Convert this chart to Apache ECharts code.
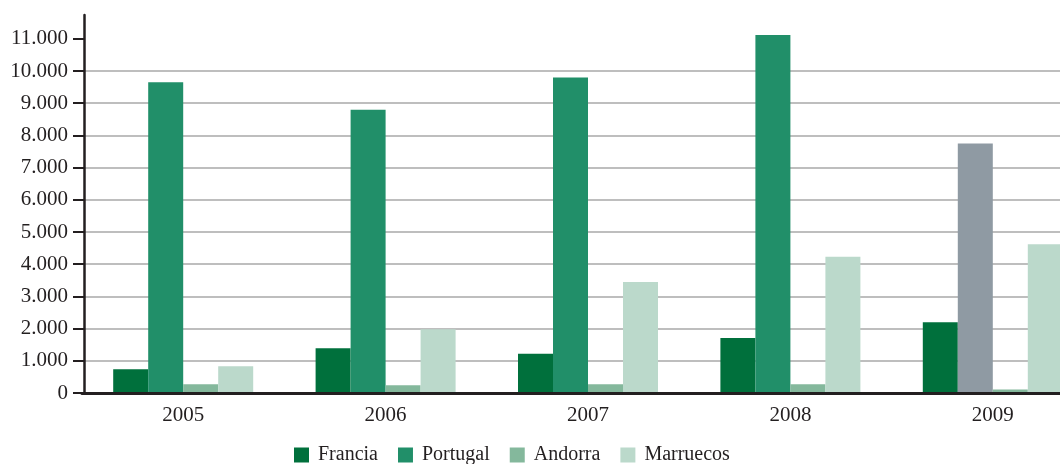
<!DOCTYPE html>
<html>
<head>
<meta charset="utf-8">
<script src="https://cdn.jsdelivr.net/npm/echarts@6/dist/echarts.min.js"></script>
<style>
html,body{margin:0;padding:0;background:#fff;overflow:hidden;}
#chart{width:1100px;height:464px;}
</style>
</head>
<body>
<div id="chart"></div>
<script>
const years = ['2005', '2006', '2007', '2008', '2009'];
const francia = [740, 1390, 1220, 1710, 2200];
const portugal = [9650, 8800, 9800, 11120, 7750];
const andorra = [270, 240, 270, 270, 110];
const marruecos = [830, 1980, 3450, 4230, 4620];
const yTicks = [0, 1000, 2000, 3000, 4000, 5000, 6000, 7000, 8000, 9000, 10000, 11000];
const yTickLabels = ['0', '1.000', '2.000', '3.000', '4.000', '5.000', '6.000', '7.000', '8.000', '9.000', '10.000', '11.000'];
const seriesNames = ['Francia', 'Portugal', 'Andorra', 'Marruecos'];

const colors = ['#00703c', '#218f69', '#84b89c', '#bbd9cb'];
const grayHighlight = '#8f9aa3';
const ink = '#231f20';
const font = 'Liberation Serif';

const chart = echarts.init(document.getElementById('chart'), null, {renderer: 'canvas'});

const portugalData = portugal.map((v, i) => i === 4 ? {value: v, itemStyle: {color: grayHighlight}} : v);
const dataSets = [francia, portugalData, andorra, marruecos];

chart.setOption({
  animation: false,
  color: colors,
  grid: {left: 82, top: 15, bottom: 71, width: 1012, containLabel: false},
  legend: {
    top: 440,
    left: 289,
    itemWidth: 15,
    itemHeight: 15,
    itemGap: 20,
    icon: 'rect',
    data: seriesNames,
    textStyle: {fontFamily: font, fontSize: 20, color: ink, padding: [0, 0, 0, 4]}
  },
  xAxis: {
    type: 'category',
    data: years,
    z: 5,
    axisLine: {lineStyle: {color: ink, width: 3}},
    axisTick: {show: false},
    axisLabel: {fontFamily: font, fontSize: 21, color: ink, margin: 12}
  },
  yAxis: {
    type: 'value',
    min: 0,
    max: 11740,
    interval: 1000,
    offset: -2,
    axisLine: {show: true, lineStyle: {color: ink, width: 2.5}},
    axisTick: {show: true, length: 11, lineStyle: {color: ink, width: 2}, customValues: yTicks},
    axisLabel: {
      fontFamily: font, fontSize: 21, color: ink, margin: 16,
      customValues: yTicks,
      formatter: function (v) { const i = yTicks.indexOf(v); return i >= 0 ? yTickLabels[i] : ''; }
    },
    splitLine: {show: true, showMaxLine: false, lineStyle: {color: '#a9a9a9', width: 1.5}}
  },
  series: seriesNames.map((name, k) => ({
    name: name,
    type: 'bar',
    barWidth: 35,
    barGap: '0%',
    data: dataSets[k]
  }))
});
</script>
</body>
</html>
